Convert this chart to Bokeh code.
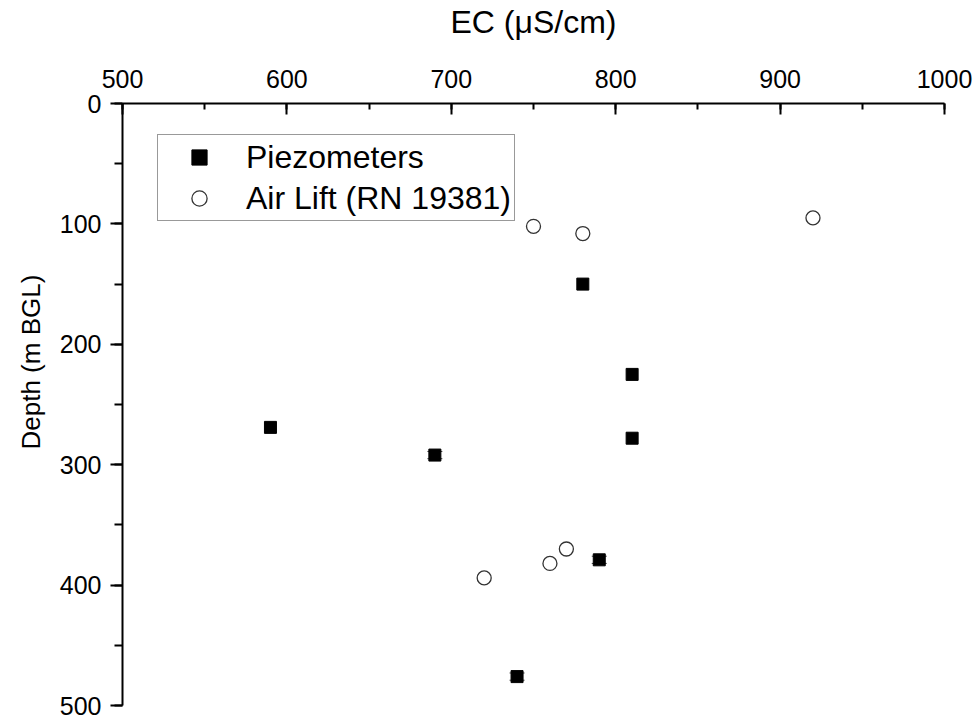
from bokeh.plotting import figure
from bokeh.models import (Range1d, SingleIntervalTicker, Legend, LegendItem, Title,
                          Whisker, TeeHead, ColumnDataSource)
from bokeh.embed import file_html
from bokeh.resources import INLINE

# Piezometer samples: electrical conductivity (uS/cm) vs depth (m BGL)
piezo_ec = [780, 810, 590, 810, 690, 790, 740]
piezo_depth = [150, 225, 269, 278, 292, 379, 476]
piezo_err = [0, 0, 0, 0, 3, 3, 3]

# Air lift samples from bore RN 19381
airlift_ec = [920, 750, 780, 770, 760, 720]
airlift_depth = [95, 102, 108, 370, 382, 394]

FONT = "Liberation Sans"

p = figure(frame_width=822, frame_height=602,
           min_border_left=122, min_border_right=35,
           min_border_top=103, min_border_bottom=15,
           x_axis_location="above", y_axis_location="left",
           x_range=Range1d(500, 1000), y_range=Range1d(500, 0),
           output_backend="svg", toolbar_location=None)

p.outline_line_color = None
p.xgrid.visible = False
p.ygrid.visible = False
p.background_fill_color = "white"
p.border_fill_color = "white"

# top EC axis, ticks pointing into the plot
xa = p.xaxis[0]
xa.ticker = SingleIntervalTicker(interval=100, num_minor_ticks=2)
xa.axis_line_width = 2
xa.major_tick_line_width = 2
xa.minor_tick_line_width = 2
xa.major_tick_in = 11
xa.major_tick_out = 0
xa.minor_tick_in = 6
xa.minor_tick_out = 0
xa.major_label_text_font = FONT
xa.major_label_text_font_size = "25px"
xa.major_label_text_color = "black"
xa.major_label_standoff = 16
xa.axis_label = "EC (\u03bcS/cm)"
xa.axis_label_text_font = FONT
xa.axis_label_text_font_size = "32px"
xa.axis_label_text_font_style = "normal"
xa.axis_label_text_color = "black"
xa.axis_label_standoff = 27

# depth axis, ticks pointing outwards
ya = p.yaxis[0]
ya.ticker = SingleIntervalTicker(interval=100, num_minor_ticks=2)
ya.axis_line_width = 2
ya.major_tick_line_width = 2
ya.minor_tick_line_width = 2
ya.major_tick_in = 0
ya.major_tick_out = 12
ya.minor_tick_in = 0
ya.minor_tick_out = 8
ya.major_label_text_font = FONT
ya.major_label_text_font_size = "25px"
ya.major_label_text_color = "black"
ya.major_label_standoff = 9

# depth axis title, placed a little above the frame centre
p.add_layout(Title(text="Depth (m BGL)", align="left", offset=256, standoff=22,
                   text_font=FONT, text_font_size="26px", text_font_style="normal",
                   text_color="black"), "left")

# error bars on the piezometer points
idx = [i for i, e in enumerate(piezo_err) if e > 0]
err_src = ColumnDataSource(data=dict(
    x=[piezo_ec[i] for i in idx],
    lower=[piezo_depth[i] - piezo_err[i] for i in idx],
    upper=[piezo_depth[i] + piezo_err[i] for i in idx],
))
whisk = Whisker(base="x", lower="lower", upper="upper", dimension="height",
                source=err_src, line_color="#444444", line_width=1,
                upper_head=TeeHead(size=15, line_color="#444444", line_width=1),
                lower_head=TeeHead(size=15, line_color="#444444", line_width=1),
                level="underlay")
p.add_layout(whisk)

r_piezo = p.scatter(piezo_ec, piezo_depth, marker="square", size=12,
                    fill_color="black", line_color="black", line_width=1)
r_air = p.scatter(airlift_ec, airlift_depth, marker="circle", size=14,
                  fill_color="white", line_color="#333333", line_width=1.3)

legend = Legend(items=[LegendItem(label="Piezometers", renderers=[r_piezo]),
                       LegendItem(label="Air Lift (RN 19381)", renderers=[r_air])],
                location=(35, 484), margin=0, padding=3, spacing=3,
                glyph_width=76, glyph_height=38, label_height=38,
                label_standoff=9,
                label_text_font=FONT, label_text_font_size="32px",
                label_text_color="black",
                border_line_color="#333333", border_line_width=1,
                background_fill_color="white", background_fill_alpha=1.0)
p.add_layout(legend)

open("out.html", "w").write(file_html(p, INLINE))
